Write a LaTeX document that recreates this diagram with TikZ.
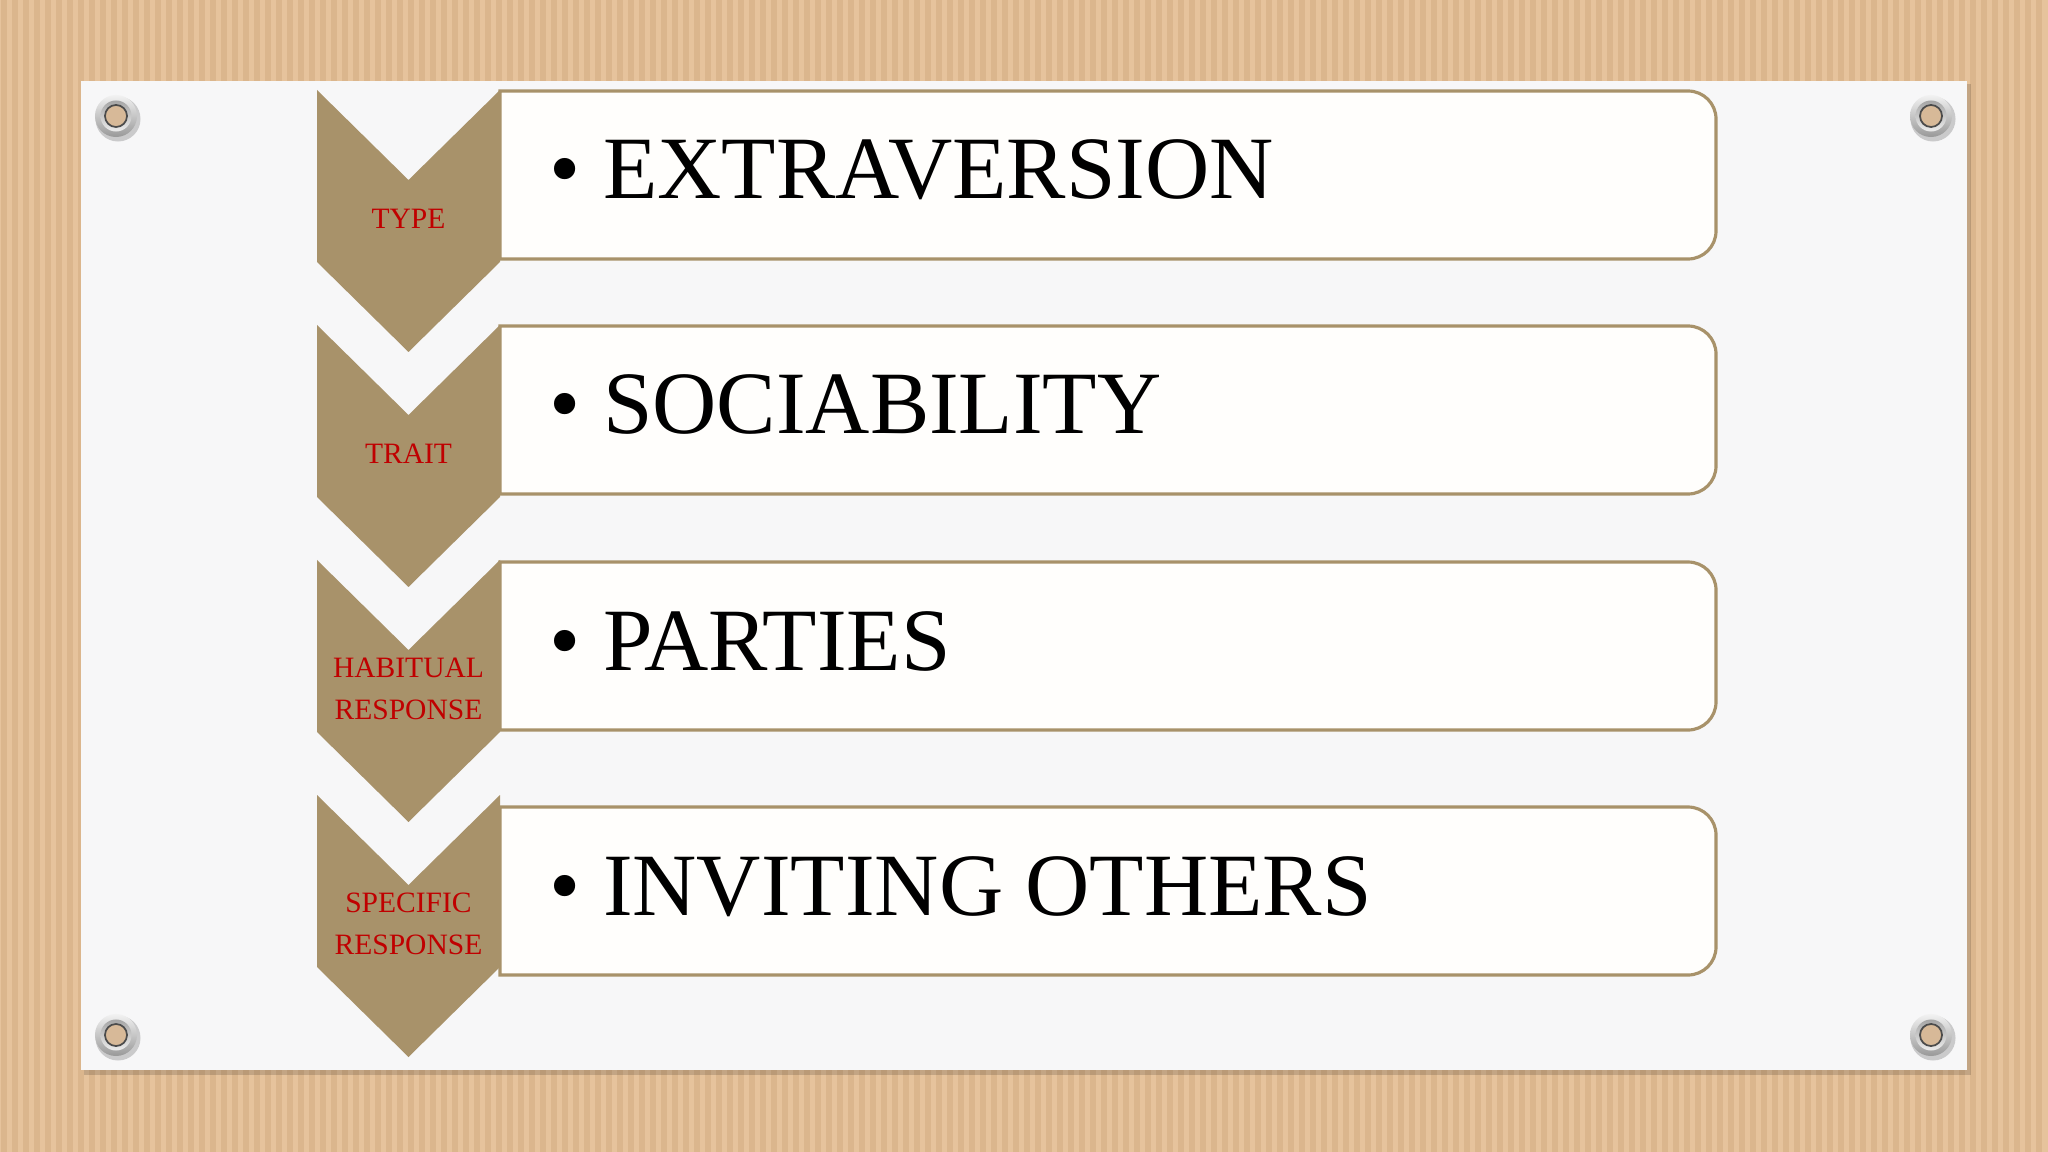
\documentclass[tikz,border=0pt]{standalone}
\usepackage{fontspec}
\setmainfont{Liberation Serif}
\usepackage{tikz}

\definecolor{cardboard}{RGB}{230,195,156}
\definecolor{cardstripe}{RGB}{219,182,141}
\definecolor{paper}{RGB}{247,247,248}
\definecolor{gold}{RGB}{168,146,106}
\definecolor{labelred}{RGB}{192,0,0}
\definecolor{boxwhite}{RGB}{255,254,252}

\tikzset{
  chev/.style={fill=gold},
  chevtext/.style={text=labelred, align=center, inner sep=0pt, font=\fontsize{8.4}{11.9}\selectfont},
  boxline/.style={draw=gold, fill=boxwhite, line width=0.9pt},
  itemtext/.style={anchor=base west, inner sep=0pt, font=\fontsize{25.3}{30}\selectfont}
}

\newcommand{\chevron}[3]{
  % chevron with its label, #2 is the top
  \fill[chev] (317, #2) -- (408.5, #2 + 90) -- (500, #2) -- (500, #2 + 172) -- (408.5, #2 + 262) -- (317, #2 + 172) -- cycle;
  \node[chevtext] (#1) at (408.5, #2 + 129) {#3};
}
\newcommand{\itembox}[3]{
  \filldraw[boxline] (500, #2) -- (1688, #2) arc[start angle=90, end angle=0, radius=0.28cm]
    -- (1716, #2 + 140) arc[start angle=0, end angle=-90, radius=0.28cm] -- (500, #2 + 168) -- cycle;
  \node[itemtext] (#1) at (549, #2 + 108) {• #3};
}
\newcommand{\grommet}[2]{
  \fill[black, opacity=0.18] (#1 + 2, #2 + 3) circle (0.225cm);
  \shade[top color=gray!10, bottom color=gray!80] (#1, #2) circle (0.21cm);
  \shade[top color=gray!70, bottom color=gray!15] (#1, #2) circle (0.155cm);
  \fill[cardboard!85!gray] (#1, #2) circle (0.11cm);
  \draw[gray!60!black, line width=0.5pt] (#1, #2) circle (0.11cm);
}

\begin{document}
\begin{tikzpicture}[x=0.01cm, y=-0.01cm]
\useasboundingbox (0, 0) rectangle (2048, 1152);
\fill[cardboard] (0, 0) rectangle (2048, 1152);
\foreach \x in {4, 15, ..., 2048}
  \draw[cardstripe, line width=1.8pt] (\x, 0) -- (\x, 1152);

\fill[black, opacity=0.15] (84, 84) rectangle (1971, 1075);
\fill[paper] (81, 81) rectangle (1967, 1070);

\itembox{extra}{91}{EXTRAVERSION};
\itembox{socia}{326}{SOCIABILITY};
\itembox{parties}{562}{PARTIES};
\itembox{inviting}{807}{INVITING OTHERS};

\chevron{type}{90}{TYPE};
\chevron{trait}{325}{TRAIT};
\chevron{habitual}{560}{HABITUAL\\RESPONSE};
\chevron{specific}{795}{SPECIFIC\\RESPONSE};

\grommet{116}{116};
\grommet{1931}{116};
\grommet{116}{1035};
\grommet{1931}{1035};
\end{tikzpicture}
\end{document}
